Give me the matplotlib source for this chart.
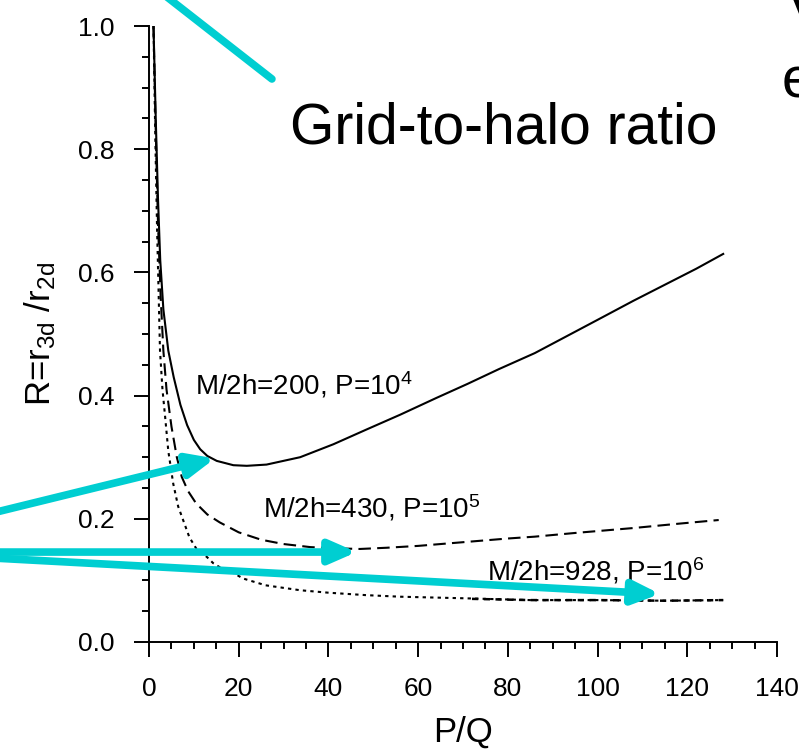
import numpy as np
import matplotlib
matplotlib.use('Agg')
import matplotlib.pyplot as plt
from matplotlib.ticker import MultipleLocator

plt.rcParams['font.family'] = ['Liberation Sans', 'DejaVu Sans']
plt.rcParams['mathtext.default'] = 'regular'

# M/2h=200, P=10^4  (solid)
x_200 = [1.0, 1.5, 2.0, 2.5, 3.2, 4.3, 5.5, 7.0, 8.5, 10.0, 11.4, 13.0, 15.1, 18.8,
         21.8, 26.2, 33.7, 41.1, 48.5, 56.0, 64.0, 71.0, 78.0, 86.0, 93.0, 100.0,
         108.0, 115.0, 122.0, 128.0]
y_200 = [1.0, 0.85, 0.72, 0.62, 0.54, 0.473, 0.43, 0.385, 0.352, 0.328, 0.313, 0.302,
         0.294, 0.287, 0.286, 0.288, 0.300, 0.321, 0.345, 0.369, 0.396, 0.419, 0.443,
         0.469, 0.496, 0.523, 0.554, 0.580, 0.606, 0.630]

# M/2h=430, P=10^5  (dashed)
x_430 = [1.0, 1.5, 2.0, 2.6, 3.2, 3.9, 5.0, 6.2, 7.3, 8.7, 10.5, 13.0, 15.8, 20.0,
         25.0, 30.0, 36.0, 42.0, 47.0, 53.0, 60.0, 70.0, 80.0, 86.0, 95.0, 108.0,
         118.0, 127.0]
y_430 = [1.0, 0.83, 0.68, 0.56, 0.473, 0.41, 0.35, 0.30, 0.268, 0.245, 0.225, 0.207,
         0.194, 0.178, 0.166, 0.159, 0.154, 0.152, 0.151, 0.153, 0.156, 0.162, 0.168,
         0.171, 0.177, 0.185, 0.192, 0.198]

# M/2h=928, P=10^6  (dotted)
x_928 = [1.0, 1.4, 1.8, 2.45, 3.0, 3.6, 4.3, 5.4, 6.5, 7.6, 9.0, 10.5, 12.9, 14.3,
         16.5, 18.8, 21.0, 26.0, 33.7, 40.0, 48.5, 56.0, 70.0, 85.0, 100.0, 115.0, 128.0]
y_928 = [1.0, 0.82, 0.67, 0.473, 0.41, 0.365, 0.31, 0.257, 0.22, 0.198, 0.17, 0.152,
         0.138, 0.128, 0.118, 0.112, 0.103, 0.092, 0.084, 0.080, 0.076, 0.0735, 0.071,
         0.068, 0.068, 0.067, 0.068]
x_928_tail = [72.0, 85.0, 100.0, 115.0, 128.0]
y_928_tail = [0.070, 0.068, 0.068, 0.067, 0.068]

labels = ['M/2h=200, P=10$^4$', 'M/2h=430, P=10$^5$', 'M/2h=928, P=10$^6$']

cyan = '#00CED1'

fig = plt.figure(figsize=(7.99, 7.52), dpi=100)
ax = fig.add_axes([0.1865, 0.1463, 0.786, 0.8191])

ax.plot(x_200, y_200, color='black', lw=1.5, solid_joinstyle='round')
ax.plot(x_430, y_430, color='black', lw=1.5, linestyle=(0, (6, 3)))
ax.plot(x_928, y_928, color='black', lw=1.5, linestyle=(0, (1.6, 2.0)))
ax.plot(x_928_tail, y_928_tail, color='black', lw=1.8, linestyle=(0, (2.5, 2.2)))

ax.text(10.25, 0.401, labels[0], fontsize=20, va='baseline')
ax.text(25.5, 0.202, labels[1], fontsize=20, va='baseline')
ax.text(75.3, 0.100, labels[2], fontsize=20, va='baseline')

ax.set_xlim(0, 140)
ax.set_ylim(0, 1.0)
ax.xaxis.set_major_locator(MultipleLocator(20))
ax.xaxis.set_minor_locator(MultipleLocator(5))
ax.yaxis.set_major_locator(MultipleLocator(0.2))
ax.yaxis.set_minor_locator(MultipleLocator(0.05))
ax.tick_params(which='major', direction='out', length=11, width=1.4, pad=14, labelsize=19)
ax.tick_params(which='minor', direction='out', length=5, width=1.4)
for s in ['top', 'right']:
    ax.spines[s].set_visible(False)
for s in ['left', 'bottom']:
    ax.spines[s].set_linewidth(1.4)

ax.set_xlabel('P/Q', fontsize=25, labelpad=11)
ax.set_ylabel('R=r$_{3d}$ /r$_{2d}$', fontsize=25, labelpad=14)

# cyan annotations
arrow_kw = dict(arrowstyle='-|>,head_length=0.8,head_width=0.35', color=cyan,
                lw=5.5, shrinkA=0, shrinkB=0, mutation_scale=20)
ax.annotate('', xy=(14.7, 0.298), xytext=(-34, 0.211), arrowprops=arrow_kw,
            annotation_clip=False)
ax.annotate('', xy=(46.3, 0.146), xytext=(-34, 0.146), arrowprops=arrow_kw,
            annotation_clip=False)
ax.annotate('', xy=(113.9, 0.078), xytext=(-34, 0.136), arrowprops=arrow_kw,
            annotation_clip=False)
ax.annotate('', xy=(27.4, 0.914), xytext=(3.5, 1.05),
            arrowprops=dict(arrowstyle='-', color=cyan, lw=5.5, shrinkA=0, shrinkB=0),
            annotation_clip=False)

ax.text(31.4, 0.809, 'Grid-to-halo ratio', fontsize=41, va='baseline')
fig.text(786 / 799, 730 / 752, 'V', fontsize=41, va='baseline')
fig.text(782 / 799, 655 / 752, 'e', fontsize=41, va='baseline')

fig.savefig('out.png', dpi=100)
